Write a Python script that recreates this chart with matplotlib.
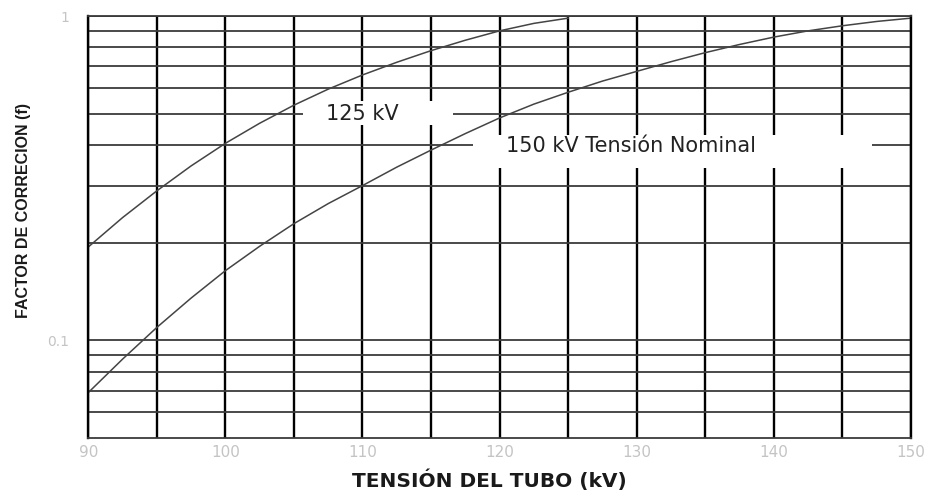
import matplotlib.pyplot as plt
from matplotlib.patches import Rectangle
from matplotlib.ticker import NullFormatter

# factor de corrección leído cada 2.5 kV
kv_125 = [90, 92.5, 95, 97.5, 100, 102.5, 105, 107.5, 110, 112.5, 115, 117.5, 120, 122.5, 125]
f_125 = [0.194, 0.239, 0.289, 0.345, 0.405, 0.467, 0.531, 0.595, 0.658, 0.720, 0.782, 0.842,
         0.900, 0.949, 0.985]

kv_150 = [90, 92.5, 95, 97.5, 100, 102.5, 105, 107.5, 110, 112.5, 115, 117.5, 120, 122.5,
          125, 127.5, 130, 132.5, 135, 137.5, 140, 142.5, 145, 147.5, 150]
f_150 = [0.069, 0.0875, 0.1096, 0.135, 0.164, 0.195, 0.229, 0.264, 0.300, 0.342, 0.386, 0.434,
         0.485, 0.535, 0.582, 0.630, 0.675, 0.723, 0.771, 0.817, 0.861, 0.900, 0.933, 0.962,
         0.985]

x_major = [90, 100, 110, 120, 130, 140, 150]
x_minor = [95, 105, 115, 125, 135, 145]
y_major = [0.1, 1]
y_major_labels = ["0.1", "1"]
y_minor = [0.06, 0.07, 0.08, 0.09, 0.2, 0.3, 0.4, 0.5, 0.6, 0.7, 0.8, 0.9]

label_125 = "125 kV"
label_150 = "150 kV Tensión Nominal"

fig = plt.figure(figsize=(9.37, 4.94), dpi=100)
ax = fig.add_axes([0.0942, 0.1134, 0.878, 0.8542])

ax.set_yscale("log")
ax.set_xlim(90, 150)
ax.set_ylim(0.05, 1)

ax.set_xticks(x_major)
ax.set_xticks(x_minor, minor=True)
ax.set_yticks(y_major)
ax.set_yticklabels(y_major_labels)
ax.set_yticks(y_minor, minor=True)
ax.yaxis.set_minor_formatter(NullFormatter())

ax.tick_params(which="both", length=0)
ax.tick_params(axis="x", pad=5, labelsize=11, labelcolor="#c4c4c4")
ax.tick_params(axis="y", pad=14, labelsize=10, labelcolor="#c4c4c4")

# rejilla: verticales negras gruesas, horizontales gris oscuro
ax.set_axisbelow(True)
ax.grid(which="both", axis="x", color="black", linewidth=1.7)
ax.grid(which="both", axis="y", color="#3a3a3a", linewidth=1.3)
for side in ["left", "right"]:
    ax.spines[side].set_color("black")
    ax.spines[side].set_linewidth(1.7)
for side in ["top", "bottom"]:
    ax.spines[side].set_color("#3a3a3a")
    ax.spines[side].set_linewidth(1.3)

# huecos blancos en la rejilla detrás de las etiquetas
ax.add_patch(Rectangle((105.67, 0.462), 116.6 - 105.67, 0.548 - 0.462,
                       facecolor="white", edgecolor="none", zorder=1.5))
ax.add_patch(Rectangle((118.06, 0.3405), 147.19 - 118.06, 0.4305 - 0.3405,
                       facecolor="white", edgecolor="none", zorder=1.5))

ax.plot(kv_125, f_125, color="#444444", linewidth=1.1, zorder=2)
ax.plot(kv_150, f_150, color="#444444", linewidth=1.1, zorder=2)

ax.text(110, 0.5, label_125, fontsize=15, color="#222222",
        ha="center", va="center", zorder=3)
ax.text(129.6, 0.398, label_150, fontsize=15, color="#222222",
        ha="center", va="center", zorder=3)

ax.set_xlabel("TENSIÓN DEL TUBO (kV)", fontsize=14.5, fontweight="bold", color="#1a1a1a")
ax.xaxis.set_label_coords(0.488, -0.074)
ax.set_ylabel("FACTOR DE CORRECION (f)", fontsize=11.5, fontweight="bold", color="#1a1a1a",
              family=["Liberation Sans", "DejaVu Sans"])
ax.yaxis.set_label_coords(-0.07, 0.54)

fig.savefig("out.png", dpi=100)
